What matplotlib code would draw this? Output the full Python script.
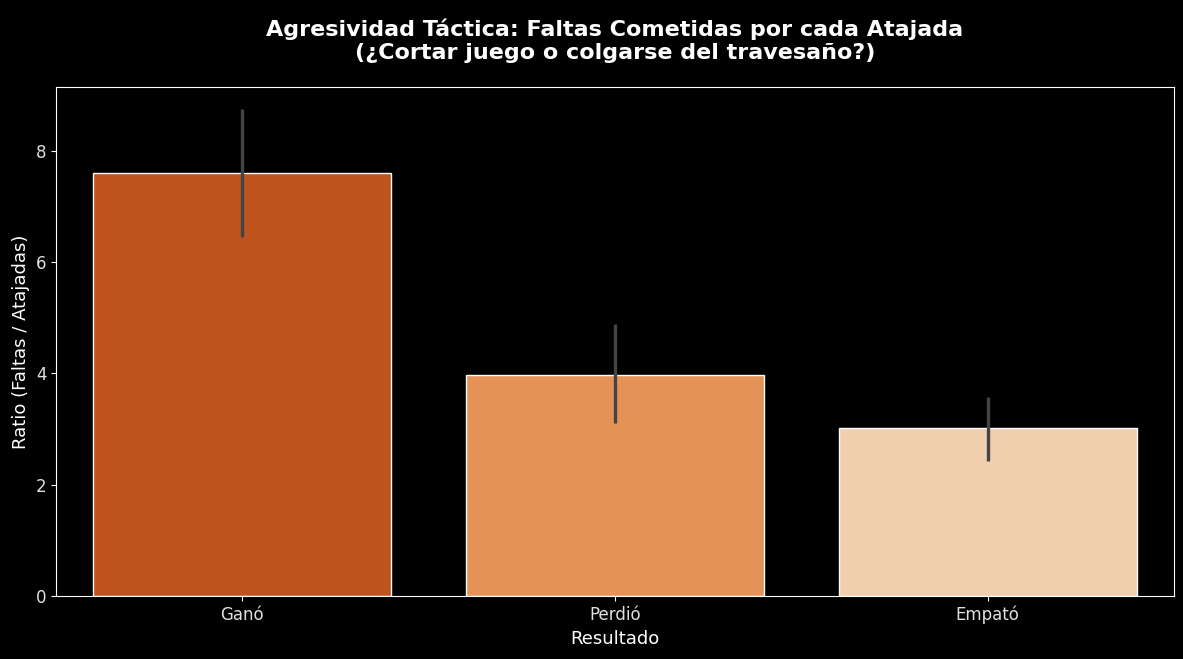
import numpy as np
import matplotlib
matplotlib.use('Agg')
import matplotlib.pyplot as plt

# datos
resultados = ['Ganó', 'Perdió', 'Empató']
ratio_medio = [7.60, 3.97, 3.02]
ic_bajo = [6.45, 3.11, 2.43]
ic_alto = [8.75, 4.89, 3.58]
colores = ['#bf531e', '#e59259', '#f0ceae']

plt.style.use('dark_background')
plt.rcParams['font.family'] = ['DejaVu Sans']
fig = plt.figure(figsize=(11.83, 6.59), dpi=100)
ax = fig.add_axes([56 / 1183, 63 / 659, 1118 / 1183, 509 / 659])

x = np.arange(len(resultados))
media = np.array(ratio_medio)
yerr = [media - np.array(ic_bajo), np.array(ic_alto) - media]

ax.bar(x, media, width=0.8, color=colores, edgecolor='white', linewidth=1)
ax.errorbar(x, media, yerr=yerr, fmt='none', ecolor='#444444', elinewidth=2.4, capsize=0)

ax.set_xlim(-0.5, 2.5)
ax.set_ylim(0, 9.15)
ax.set_xticks(x)
ax.set_xticklabels(resultados)
ax.set_yticks([0, 2, 4, 6, 8])
ax.tick_params(labelsize=12, colors='white', labelcolor='#e0e0e0')
for s in ax.spines.values():
    s.set_color('white')

ax.set_xlabel('Resultado', fontsize=13)
ax.set_ylabel('Ratio (Faltas / Atajadas)', fontsize=13)
ax.set_title('Agresividad Táctica: Faltas Cometidas por cada Atajada\n(¿Cortar juego o colgarse del travesaño?)',
             fontsize=16, fontweight='bold', pad=20)

fig.savefig('out.png', dpi=100, facecolor='black')
